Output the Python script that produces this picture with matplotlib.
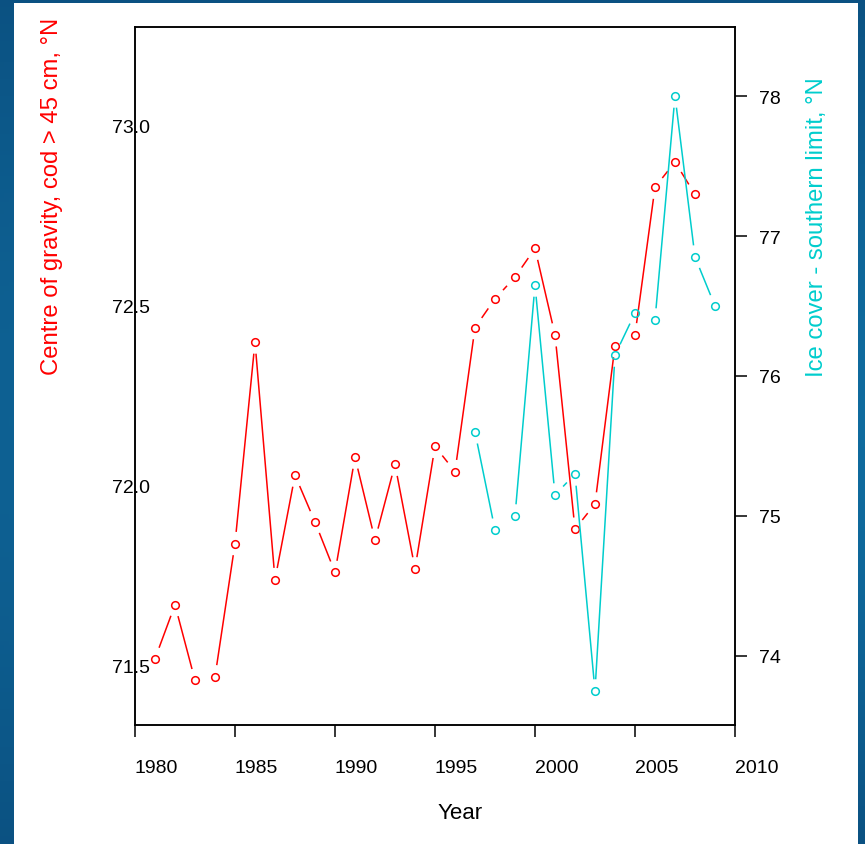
import numpy as np
import matplotlib.pyplot as plt
from matplotlib.patches import Rectangle

plt.rcParams['font.family'] = ['Liberation Sans', 'DejaVu Sans']

# Cod centre of gravity (fish > 45 cm), degrees N
cod_years = list(range(1981, 2009))
cod_lat = [71.52, 71.67, 71.46, 71.47, 71.84, 72.40, 71.74, 72.03, 71.90, 71.76,
           72.08, 71.85, 72.06, 71.77, 72.11, 72.04, 72.44, 72.52, 72.58, 72.66,
           72.42, 71.88, 71.95, 72.39, 72.42, 72.83, 72.90, 72.81]

# Southern limit of the ice cover, degrees N
ice_years = list(range(1997, 2010))
ice_lat = [75.60, 74.90, 75.00, 76.65, 75.15, 75.30, 73.75, 76.15, 76.45, 76.40,
           78.00, 76.85, 76.50]

cod_ticks = [71.5, 72.0, 72.5, 73.0]
ice_ticks = [74, 75, 76, 77, 78]
year_ticks = [1980, 1985, 1990, 1995, 2000, 2005, 2010]

RED = '#ff0000'
CYAN = '#00cdcd'
W, H = 865, 845

fig = plt.figure(figsize=(W / 100, H / 100), dpi=100)

# blue slide background behind the white panel
bg = fig.add_axes([0, 0, 1, 1], zorder=-10)
gx, gy = np.meshgrid(np.linspace(0, 1, 200), np.linspace(0, 1, 200))
w = 0.5 + 0.5 * np.sin(np.pi * gy) * (0.6 + 0.4 * gx)
dark = np.array([0.03, 0.22, 0.40])
light = np.array([0.06, 0.42, 0.62])
img = dark[None, None, :] * (1 - w[..., None]) + light[None, None, :] * w[..., None]
bg.imshow(img, extent=[0, 1, 0, 1], aspect='auto', origin='upper')
bg.set_axis_off()
fig.patches.append(Rectangle((14 / W, 0), (858 - 14) / W, (H - 4) / H,
                             transform=fig.transFigure, facecolor='white',
                             edgecolor='none', zorder=-5))

ax = fig.add_axes([135 / W, (H - 726) / H, 600 / W, 698 / H])
ax.set_facecolor('none')
ax2 = ax.twinx()

ax.set_xlim(1980, 2010)
ax.set_ylim(71.336, 73.275)
ax2.set_ylim(73.507, 78.493)

for s in ax.spines.values():
    s.set_linewidth(1.1)
for s in ax2.spines.values():
    s.set_linewidth(1.1)

ax.set_xticks(year_ticks)
ax.set_xticklabels([str(y) for y in year_ticks], ha='left')
ax.tick_params(axis='x', length=8.6, width=1.1, pad=16, labelsize=14)
ax.set_yticks(cod_ticks)
ax.set_yticklabels([f'{v:.1f}' for v in cod_ticks])
ax.tick_params(axis='y', length=0, pad=-10.8, labelsize=14)
ax2.set_yticks(ice_ticks)
ax2.set_yticklabels([str(v) for v in ice_ticks])
ax2.tick_params(axis='y', length=8.6, width=1.1, pad=9, labelsize=14)


def gapped(axis, x, y, color, gap=12.5):
    # points joined by segments that stop short of each marker
    pts = axis.transData.transform(np.column_stack([x, y]))
    inv = axis.transData.inverted()
    for p0, p1 in zip(pts[:-1], pts[1:]):
        d = p1 - p0
        L = np.hypot(*d)
        if L <= 2 * gap:
            continue
        u = d / L
        seg = inv.transform(np.array([p0 + u * gap, p1 - u * gap]))
        axis.plot(seg[:, 0], seg[:, 1], color=color, lw=1.1, clip_on=False)
    axis.plot(x, y, 'o', mfc='none', mec=color, ms=5.5, mew=1.1, clip_on=False)


gapped(ax, cod_years, cod_lat, RED)
gapped(ax2, ice_years, ice_lat, CYAN)

fig.text(52 / W, 1 - 196 / H, 'Centre of gravity, cod > 45 cm, \u00b0N',
         rotation=90, color=RED, fontsize=17.2, ha='center', va='center')
fig.text(817 / W, 1 - 227 / H, 'Ice cover - southern limit, \u00b0N',
         rotation=90, color=CYAN, fontsize=17.2, ha='center', va='center')
fig.text(460 / W, 1 - 814 / H, 'Year', fontsize=16, ha='center', va='center')

fig.savefig('out.png', dpi=100)
